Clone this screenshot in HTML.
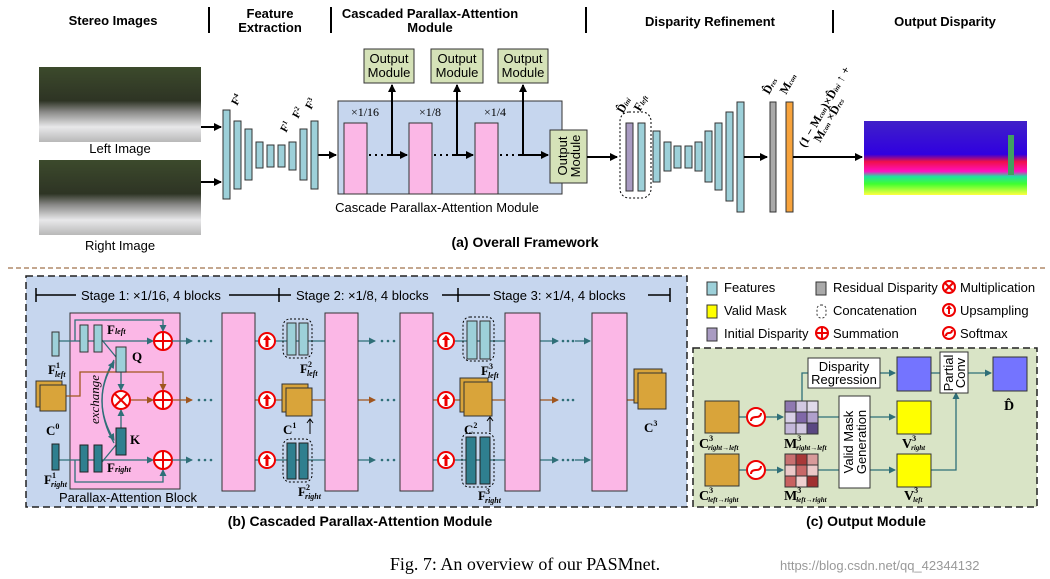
<!DOCTYPE html>
<html><head><meta charset="utf-8"><style>
body{margin:0;background:#fff}
svg{display:block}
text{font-family:"Liberation Sans",sans-serif}
.s text, text.s{font-family:"Liberation Serif",serif}
</style></head><body>
<svg width="1050" height="579" viewBox="0 0 1050 579" xmlns="http://www.w3.org/2000/svg">
<defs>
<marker id="a" markerWidth="8" markerHeight="8" refX="7" refY="4" orient="auto" markerUnits="userSpaceOnUse"><path d="M0,0L8,4L0,8z" fill="#000"/></marker>
<marker id="t" markerWidth="7" markerHeight="7" refX="6" refY="3.5" orient="auto" markerUnits="userSpaceOnUse"><path d="M0,0L7,3.5L0,7z" fill="#2f6f78"/></marker>
<marker id="o" markerWidth="7" markerHeight="7" refX="6" refY="3.5" orient="auto" markerUnits="userSpaceOnUse"><path d="M0,0L7,3.5L0,7z" fill="#a0561e"/></marker>
<linearGradient id="img" x1="0" y1="0" x2="0" y2="1"><stop offset="0" stop-color="#3c4a2c"/><stop offset="0.45" stop-color="#2e3424"/><stop offset="0.6" stop-color="#8a8a88"/><stop offset="0.8" stop-color="#e8e8ea"/><stop offset="1" stop-color="#b8b8b8"/></linearGradient>
<linearGradient id="disp" x1="0" y1="0" x2="0" y2="1"><stop offset="0" stop-color="#4020c8"/><stop offset="0.45" stop-color="#3000e0"/><stop offset="0.55" stop-color="#f0104a"/><stop offset="0.68" stop-color="#ff10c0"/><stop offset="0.75" stop-color="#20e0a0"/><stop offset="0.85" stop-color="#40ff30"/><stop offset="1" stop-color="#ffff40"/></linearGradient>
</defs>

<!-- headers -->
<g font-weight="bold" font-size="13" text-anchor="middle">
<text x="113" y="25">Stereo Images</text>
<text x="270" y="18">Feature</text><text x="270" y="32">Extraction</text>
<text x="430" y="18">Cascaded Parallax-Attention</text><text x="430" y="32">Module</text>
<text x="710" y="26">Disparity Refinement</text>
<text x="945" y="26">Output Disparity</text>
</g>
<g stroke="#000" stroke-width="2"><line x1="209" y1="7" x2="209" y2="33"/><line x1="331" y1="7" x2="331" y2="33"/><line x1="586" y1="7" x2="586" y2="33"/><line x1="833" y1="10" x2="833" y2="33"/></g>

<!-- images -->
<rect x="39" y="67" width="162" height="75" fill="url(#img)"/>
<rect x="39" y="160" width="162" height="75" fill="url(#img)"/>
<text x="120" y="153" font-size="13" text-anchor="middle">Left Image</text>
<text x="120" y="250" font-size="13" text-anchor="middle">Right Image</text>
<g stroke="#000" stroke-width="2" marker-end="url(#a)"><line x1="201" y1="127" x2="221" y2="127"/><line x1="201" y1="182" x2="221" y2="182"/><line x1="317" y1="155" x2="336" y2="155"/></g>

<!-- feature bars -->
<g fill="#9dd0d9" stroke="#333" stroke-width="1">
<rect x="223" y="110" width="7" height="89"/><rect x="234" y="121" width="7" height="68"/><rect x="245" y="129" width="7" height="51"/><rect x="256" y="142" width="7" height="26"/><rect x="267" y="145" width="7" height="22"/><rect x="278" y="145" width="7" height="22"/><rect x="289" y="142" width="7" height="28"/><rect x="300" y="129" width="7" height="51"/><rect x="311" y="121" width="7" height="68"/>
</g>
<g class="s" font-weight="bold" font-size="11">
<text transform="translate(237,106) rotate(-60)">F<tspan font-size="7" dy="-4">4</tspan></text>
<text transform="translate(286,133) rotate(-60)">F<tspan font-size="7" dy="-4">1</tspan></text>
<text transform="translate(298,119) rotate(-60)">F<tspan font-size="7" dy="-4">2</tspan></text>
<text transform="translate(311,110) rotate(-60)">F<tspan font-size="7" dy="-4">3</tspan></text>
</g>

<!-- CPAM -->
<rect x="338" y="101" width="224" height="93" fill="#c6d6ee" stroke="#333"/>
<g fill="#fbb7e6" stroke="#333"><rect x="344" y="123" width="23" height="71"/><rect x="409" y="123" width="23" height="71"/><rect x="475" y="123" width="23" height="71"/></g>
<g class="s" font-size="12" text-anchor="middle"><text x="365" y="116">×1/16</text><text x="430" y="116">×1/8</text><text x="495" y="116">×1/4</text></g>
<g stroke="#000" stroke-width="2"><line x1="369" y1="155" x2="388" y2="155" stroke-dasharray="2,4"/><line x1="434" y1="155" x2="453" y2="155" stroke-dasharray="2,4"/><line x1="500" y1="155" x2="519" y2="155" stroke-dasharray="2,4"/>
<line x1="388" y1="155" x2="407" y2="155" marker-end="url(#a)"/><line x1="453" y1="155" x2="473" y2="155" marker-end="url(#a)"/><line x1="519" y1="155" x2="548" y2="155" marker-end="url(#a)"/>
<line x1="392" y1="155" x2="392" y2="85" marker-end="url(#a)"/><line x1="457" y1="155" x2="457" y2="85" marker-end="url(#a)"/><line x1="523" y1="155" x2="523" y2="85" marker-end="url(#a)"/></g>
<g fill="#d5e2b8" stroke="#333"><rect x="364" y="49" width="50" height="34"/><rect x="431" y="49" width="52" height="34"/><rect x="498" y="49" width="50" height="34"/><rect x="550" y="130" width="37" height="53"/></g>
<g font-size="13" text-anchor="middle"><text x="389" y="63">Output</text><text x="389" y="77">Module</text><text x="457" y="63">Output</text><text x="457" y="77">Module</text><text x="523" y="63">Output</text><text x="523" y="77">Module</text>
<text transform="translate(567,156) rotate(-90)">Output</text><text transform="translate(580,156) rotate(-90)">Module</text></g>
<text x="437" y="212" font-size="13" text-anchor="middle">Cascade Parallax-Attention Module</text>
<line x1="587" y1="157" x2="617" y2="157" stroke="#000" stroke-width="2" marker-end="url(#a)"/>

<!-- refinement -->
<rect x="620" y="112" width="31" height="86" rx="9" fill="none" stroke="#000" stroke-dasharray="2,2"/>
<rect x="626" y="123" width="7" height="68" fill="#a99bc2" stroke="#333"/>
<rect x="638" y="123" width="7" height="68" fill="#9dd0d9" stroke="#333"/>
<g fill="#9dd0d9" stroke="#333">
<rect x="653" y="131" width="7" height="51"/><rect x="664" y="142" width="7" height="29"/><rect x="674" y="146" width="7" height="22"/><rect x="685" y="146" width="7" height="22"/><rect x="695" y="142" width="7" height="29"/><rect x="705" y="131" width="7" height="51"/><rect x="715" y="123" width="7" height="67"/><rect x="726" y="112" width="7" height="89"/><rect x="737" y="102" width="7" height="110"/></g>
<line x1="744" y1="157" x2="767" y2="157" stroke="#000" stroke-width="2" marker-end="url(#a)"/>
<rect x="770" y="102" width="6" height="110" fill="#a9a9a9" stroke="#333"/>
<rect x="786" y="102" width="7" height="110" fill="#f7a33c" stroke="#333"/>
<line x1="793" y1="157" x2="862" y2="157" stroke="#000" stroke-width="2" marker-end="url(#a)"/>
<rect x="864" y="121" width="163" height="74" fill="url(#disp)"/>
<rect x="1008" y="135" width="6" height="40" fill="#40a060"/>
<g class="s" font-weight="bold" font-size="12">
<text transform="translate(623,114) rotate(-60)">D̂<tspan font-size="7" font-style="italic">ini</tspan></text>
<text transform="translate(640,112) rotate(-60)">F<tspan font-size="7" font-style="italic">left</tspan></text>
<text transform="translate(769,95) rotate(-60)">D̂<tspan font-size="7" font-style="italic">res</tspan></text>
<text transform="translate(786,95) rotate(-60)">M<tspan font-size="7" font-style="italic">con</tspan></text>
<text transform="translate(805,148) rotate(-60)">(1 − M<tspan font-size="7" font-style="italic">con</tspan>)×D̂<tspan font-size="7" font-style="italic">ini</tspan> ↑ +</text>
<text transform="translate(820,143) rotate(-60)">M<tspan font-size="7" font-style="italic">con</tspan> ×D̂<tspan font-size="7" font-style="italic">res</tspan></text>
</g>
<text x="525" y="247" font-size="14" font-weight="bold" text-anchor="middle">(a) Overall Framework</text>
<line x1="8" y1="268" x2="1045" y2="268" stroke="#b08a6a" stroke-width="1.5" stroke-dasharray="5,3"/>

<!-- panel b -->
<rect x="26" y="276" width="661" height="231" fill="#c6d6ee" stroke="#222" stroke-width="1.5" stroke-dasharray="7,4"/>
<g stroke="#000" stroke-width="1.5"><line x1="36" y1="295" x2="76" y2="295"/><line x1="229" y1="295" x2="291" y2="295"/><line x1="442" y1="295" x2="490" y2="295"/><line x1="648" y1="295" x2="670" y2="295"/>
<line x1="36" y1="288" x2="36" y2="302"/><line x1="279" y1="288" x2="279" y2="302"/><line x1="458" y1="288" x2="458" y2="302"/><line x1="670" y1="288" x2="670" y2="302"/></g>
<g font-size="13"><text x="81" y="300">Stage 1: ×1/16, 4 blocks</text><text x="296" y="300">Stage 2: ×1/8, 4 blocks</text><text x="493" y="300">Stage 3:  ×1/4, 4 blocks</text></g>

<rect x="70" y="313" width="110" height="176" fill="#fbb7e6" stroke="#333"/>
<text x="128" y="502" font-size="13" text-anchor="middle">Parallax-Attention Block</text>
<!-- inner lines -->
<g stroke="#2f6f78" stroke-width="1.3" fill="none">
<line x1="58" y1="341" x2="153" y2="341" marker-end="url(#t)"/>
<line x1="58" y1="460" x2="153" y2="460" marker-end="url(#t)"/>
<path d="M75,341 V320 H163 V331" marker-end="url(#t)"/>
<path d="M75,460 V482 H163 V470" marker-end="url(#t)"/>
<path d="M102,340 L116,357"/><path d="M102,462 L116,445"/>
<line x1="121" y1="372" x2="121" y2="390" marker-end="url(#t)"/>
<line x1="121" y1="428" x2="121" y2="410" marker-end="url(#t)"/>
<path d="M114,443 Q90,400 114,362" marker-end="url(#t)"/>
<path d="M114,360 Q90,400 114,440" marker-end="url(#t)"/>
</g>
<g stroke="#a0561e" stroke-width="1.3" fill="none">
<path d="M66,396 H80 V372 H163 V390" marker-end="url(#o)"/>
<line x1="130" y1="400" x2="153" y2="400" marker-end="url(#o)"/>
</g>
<g fill="#9dd0d9" stroke="#333"><rect x="52" y="332" width="7" height="24"/><rect x="80" y="325" width="8" height="27"/><rect x="94" y="325" width="8" height="27"/><rect x="116" y="347" width="10" height="25"/></g>
<g fill="#2f7f8f" stroke="#222"><rect x="52" y="444" width="7" height="26"/><rect x="80" y="445" width="8" height="27"/><rect x="94" y="445" width="8" height="27"/><rect x="116" y="428" width="10" height="27"/></g>
<g fill="#d9a43a" stroke="#333"><rect x="36" y="381" width="26" height="26"/><rect x="40" y="385" width="26" height="26"/></g>
<g class="s" font-weight="bold" font-size="13">
<text x="48" y="374">F<tspan font-size="8" dy="-6">1</tspan><tspan font-size="8" dx="-5" dy="9" font-style="italic">left</tspan></text>
<text x="46" y="435">C<tspan font-size="8" dy="-6">0</tspan></text>
<text x="44" y="484">F<tspan font-size="8" dy="-6">1</tspan><tspan font-size="8" dx="-5" dy="9" font-style="italic">right</tspan></text>
<text x="107" y="334">F<tspan font-size="8" font-style="italic">left</tspan></text>
<text x="132" y="361">Q</text><text x="130" y="444">K</text>
<text x="107" y="472">F<tspan font-size="8" font-style="italic">right</tspan></text>
</g>
<text class="s" font-style="italic" font-size="13" transform="translate(99,424) rotate(-90)">exchange</text>
<!-- circles -->
<g stroke="#e00" stroke-width="2" fill="#fff">
<circle cx="163" cy="341" r="9"/><circle cx="163" cy="400" r="9"/><circle cx="163" cy="460" r="9"/><circle cx="121" cy="400" r="9"/></g>
<g stroke="#e00" stroke-width="2"><path d="M154,341h18M163,332v18M154,400h18M163,391v18M154,460h18M163,451v18M115,394l12,12M127,394l-12,12"/></g>

<!-- main flow rows -->
<g stroke-width="1.3">
<g stroke="#2f6f78"><line x1="172" y1="341" x2="192" y2="341" marker-end="url(#t)"/><line x1="172" y1="460" x2="192" y2="460" marker-end="url(#t)"/>
<line x1="255" y1="341" x2="325" y2="341"/><line x1="255" y1="460" x2="325" y2="460"/>
<line x1="358" y1="341" x2="375" y2="341" marker-end="url(#t)"/><line x1="358" y1="460" x2="375" y2="460" marker-end="url(#t)"/>
<line x1="433" y1="341" x2="505" y2="341"/><line x1="433" y1="460" x2="505" y2="460"/>
<line x1="540" y1="341" x2="558" y2="341" marker-end="url(#t)"/><line x1="540" y1="460" x2="558" y2="460" marker-end="url(#t)"/>
<line x1="575" y1="341" x2="590" y2="341" marker-end="url(#t)"/><line x1="575" y1="460" x2="590" y2="460" marker-end="url(#t)"/></g>
<g stroke="#a0561e"><line x1="172" y1="400" x2="192" y2="400" marker-end="url(#o)"/><line x1="255" y1="400" x2="325" y2="400"/><line x1="358" y1="400" x2="375" y2="400" marker-end="url(#o)"/><line x1="433" y1="400" x2="505" y2="400"/><line x1="540" y1="400" x2="558" y2="400" marker-end="url(#o)"/><line x1="627" y1="400" x2="640" y2="400" marker-end="url(#o)"/></g>
</g>
<g fill="#2f6f78"><circle cx="199" cy="341" r="1.3"/><circle cx="205" cy="341" r="1.3"/><circle cx="211" cy="341" r="1.3"/><circle cx="199" cy="400" r="1.3"/><circle cx="205" cy="400" r="1.3"/><circle cx="211" cy="400" r="1.3"/><circle cx="199" cy="460" r="1.3"/><circle cx="205" cy="460" r="1.3"/><circle cx="211" cy="460" r="1.3"/>
<circle cx="382" cy="341" r="1.3"/><circle cx="388" cy="341" r="1.3"/><circle cx="394" cy="341" r="1.3"/><circle cx="382" cy="400" r="1.3"/><circle cx="388" cy="400" r="1.3"/><circle cx="394" cy="400" r="1.3"/><circle cx="382" cy="460" r="1.3"/><circle cx="388" cy="460" r="1.3"/><circle cx="394" cy="460" r="1.3"/>
<circle cx="563" cy="341" r="1.3"/><circle cx="568" cy="341" r="1.3"/><circle cx="573" cy="341" r="1.3"/><circle cx="563" cy="400" r="1.3"/><circle cx="568" cy="400" r="1.3"/><circle cx="573" cy="400" r="1.3"/><circle cx="563" cy="460" r="1.3"/><circle cx="568" cy="460" r="1.3"/><circle cx="573" cy="460" r="1.3"/></g>
<g fill="#fbb7e6" stroke="#333"><rect x="222" y="313" width="33" height="178"/><rect x="325" y="313" width="33" height="178"/><rect x="400" y="313" width="33" height="178"/><rect x="505" y="313" width="35" height="178"/><rect x="592" y="313" width="35" height="178"/></g>
<!-- upsampling circles -->
<g stroke="#e00" stroke-width="2" fill="#fff">
<circle cx="267" cy="341" r="8"/><circle cx="267" cy="400" r="8"/><circle cx="267" cy="460" r="8"/><circle cx="446" cy="341" r="8"/><circle cx="446" cy="400" r="8"/><circle cx="446" cy="460" r="8"/></g>
<g fill="#e00"><path d="M267,335l-4,5h2.5v7h3v-7h2.5z"/><path d="M267,394l-4,5h2.5v7h3v-7h2.5z"/><path d="M267,454l-4,5h2.5v7h3v-7h2.5z"/><path d="M446,335l-4,5h2.5v7h3v-7h2.5z"/><path d="M446,394l-4,5h2.5v7h3v-7h2.5z"/><path d="M446,454l-4,5h2.5v7h3v-7h2.5z"/></g>
<!-- stage groups -->
<g fill="none" stroke="#000" stroke-dasharray="2,2"><rect x="283" y="319" width="29" height="39" rx="7"/><rect x="283" y="439" width="29" height="43" rx="7"/><rect x="463" y="317" width="31" height="44" rx="7"/><rect x="462" y="433" width="32" height="54" rx="7"/></g>
<g fill="#9dd0d9" stroke="#333"><rect x="287" y="323" width="9" height="32"/><rect x="299" y="323" width="9" height="32"/><rect x="467" y="321" width="10" height="38"/><rect x="480" y="321" width="10" height="38"/></g>
<g fill="#2f7f8f" stroke="#222"><rect x="287" y="443" width="9" height="36"/><rect x="299" y="443" width="9" height="36"/><rect x="466" y="437" width="10" height="47"/><rect x="480" y="437" width="10" height="47"/></g>
<g fill="#d9a43a" stroke="#333"><rect x="282" y="384" width="26" height="28"/><rect x="286" y="388" width="26" height="28"/><rect x="460" y="378" width="28" height="34"/><rect x="464" y="382" width="28" height="34"/><rect x="634" y="369" width="28" height="34"/><rect x="638" y="373" width="28" height="36"/></g>
<g class="s" font-weight="bold" font-size="13">
<text x="300" y="373">F<tspan font-size="8" dy="-6">2</tspan><tspan font-size="8" dx="-5" dy="9" font-style="italic">left</tspan></text>
<text x="283" y="434">C<tspan font-size="8" dy="-6">1</tspan></text>
<text x="298" y="496">F<tspan font-size="8" dy="-6">2</tspan><tspan font-size="8" dx="-5" dy="9" font-style="italic">right</tspan></text>
<text x="481" y="375">F<tspan font-size="8" dy="-6">3</tspan><tspan font-size="8" dx="-5" dy="9" font-style="italic">left</tspan></text>
<text x="464" y="434">C<tspan font-size="8" dy="-6">2</tspan></text>
<text x="478" y="500">F<tspan font-size="8" dy="-6">3</tspan><tspan font-size="8" dx="-5" dy="9" font-style="italic">right</tspan></text>
<text x="644" y="432">C<tspan font-size="8" dy="-6">3</tspan></text>
</g>
<g stroke="#000" stroke-width="1"><line x1="310" y1="434" x2="310" y2="420"/><path d="M307,423l3,-4l3,4" fill="none"/><line x1="490" y1="432" x2="490" y2="418"/><path d="M487,421l3,-4l3,4" fill="none"/></g>
<text x="360" y="526" font-size="14" font-weight="bold" text-anchor="middle">(b) Cascaded Parallax-Attention Module</text>

<!-- legend -->
<g stroke="#333"><rect x="707" y="282" width="10" height="13" fill="#9dd0d9"/><rect x="707" y="305" width="10" height="13" fill="#ffff00"/><rect x="707" y="328" width="10" height="13" fill="#a99bc2"/><rect x="816" y="282" width="10" height="13" fill="#a9a9a9"/><rect x="817" y="305" width="9" height="13" rx="4" fill="none" stroke-dasharray="2,2"/></g>
<g font-size="13"><text x="724" y="292">Features</text><text x="724" y="315">Valid Mask</text><text x="724" y="338">Initial Disparity</text><text x="833" y="292">Residual Disparity</text><text x="833" y="315">Concatenation</text><text x="833" y="338">Summation</text><text x="960" y="292">Multiplication</text><text x="960" y="315">Upsampling</text><text x="960" y="338">Softmax</text></g>
<g stroke="#e00" stroke-width="2" fill="#fff"><circle cx="822" cy="333" r="6"/><circle cx="949" cy="287" r="6"/><circle cx="949" cy="310" r="6"/><circle cx="949" cy="333" r="6"/></g>
<g stroke="#e00" stroke-width="2" fill="none"><path d="M816,333h12M822,327v12M945,283l8,8M953,283l-8,8M946,336q0,-3 3,-3q3,0 3,-3"/></g>
<path d="M949,305l-3,4h2v5h2v-5h2z" fill="#e00"/>

<!-- panel c -->
<rect x="693" y="348" width="344" height="159" fill="#d9e4c6" stroke="#222" stroke-width="1.5" stroke-dasharray="7,4"/>
<g stroke="#2f6f78" stroke-width="1.3" fill="none">
<line x1="739" y1="417" x2="747" y2="417"/><line x1="765" y1="417" x2="783" y2="417" marker-end="url(#t)"/>
<line x1="739" y1="470" x2="747" y2="470"/><line x1="765" y1="470" x2="783" y2="470" marker-end="url(#t)"/>
<line x1="818" y1="417" x2="839" y2="417"/><line x1="818" y1="470" x2="839" y2="470"/>
<line x1="870" y1="417" x2="895" y2="417" marker-end="url(#t)"/><line x1="870" y1="470" x2="895" y2="470" marker-end="url(#t)"/>
<path d="M802,401 V373 H808"/><line x1="880" y1="373" x2="895" y2="373" marker-end="url(#t)"/>
<line x1="931" y1="373" x2="940" y2="373"/><line x1="968" y1="373" x2="991" y2="373" marker-end="url(#t)"/>
<path d="M931,470 H956 V393" marker-end="url(#t)"/>
</g>
<g fill="#d9a43a" stroke="#333"><rect x="705" y="401" width="34" height="32"/><rect x="705" y="454" width="34" height="32"/></g>
<g stroke="#e00" stroke-width="2" fill="#fff"><circle cx="756" cy="417" r="9"/><circle cx="756" cy="470" r="9"/></g>
<g stroke="#e00" stroke-width="2" fill="none"><path d="M751,421q0,-4 5,-4q5,0 5,-4M751,474q0,-4 5,-4q5,0 5,-4"/></g>
<g stroke="#333">
<rect x="785" y="401" width="11" height="11" fill="#8f78b0"/><rect x="796" y="401" width="11" height="11" fill="#d2c8e2"/><rect x="807" y="401" width="11" height="11" fill="#e0daea"/>
<rect x="785" y="412" width="11" height="11" fill="#d8d0e6"/><rect x="796" y="412" width="11" height="11" fill="#8068a8"/><rect x="807" y="412" width="11" height="11" fill="#b0a0cc"/>
<rect x="785" y="423" width="11" height="11" fill="#c4b8da"/><rect x="796" y="423" width="11" height="11" fill="#d2c8e2"/><rect x="807" y="423" width="11" height="11" fill="#5a4882"/>
<rect x="785" y="454" width="11" height="11" fill="#c87070"/><rect x="796" y="454" width="11" height="11" fill="#a83838"/><rect x="807" y="454" width="11" height="11" fill="#d89a9a"/>
<rect x="785" y="465" width="11" height="11" fill="#ecc8c8"/><rect x="796" y="465" width="11" height="11" fill="#c86868"/><rect x="807" y="465" width="11" height="11" fill="#ecc8c8"/>
<rect x="785" y="476" width="11" height="11" fill="#c86060"/><rect x="796" y="476" width="11" height="11" fill="#f0d0d0"/><rect x="807" y="476" width="11" height="11" fill="#a03030"/>
</g>
<rect x="808" y="358" width="72" height="30" fill="#fff" stroke="#333"/>
<text x="844" y="371" font-size="13" text-anchor="middle">Disparity</text><text x="844" y="384" font-size="13" text-anchor="middle">Regression</text>
<rect x="839" y="396" width="31" height="92" fill="#fff" stroke="#333"/>
<text transform="translate(853,442) rotate(-90)" font-size="13" text-anchor="middle">Valid Mask</text>
<text transform="translate(866,442) rotate(-90)" font-size="13" text-anchor="middle">Generation</text>
<rect x="897" y="357" width="34" height="34" fill="#7474ff" stroke="#333"/>
<rect x="993" y="357" width="34" height="34" fill="#7474ff" stroke="#333"/>
<rect x="897" y="401" width="34" height="33" fill="#ffff00" stroke="#333"/>
<rect x="897" y="454" width="34" height="33" fill="#ffff00" stroke="#333"/>
<rect x="940" y="352" width="28" height="41" fill="#fff" stroke="#333"/>
<text transform="translate(953,373) rotate(-90)" font-size="13" text-anchor="middle">Partial</text>
<text transform="translate(965,373) rotate(-90)" font-size="13" text-anchor="middle">Conv</text>
<g class="s" font-weight="bold" font-size="14">
<text x="1004" y="410">D̂</text>
<text x="699" y="448">C<tspan font-size="8" dy="-7">3</tspan><tspan font-size="7" dx="-5" dy="9" font-style="italic">right→left</tspan></text>
<text x="784" y="448">M<tspan font-size="8" dy="-7">3</tspan><tspan font-size="7" dx="-5" dy="9" font-style="italic">right→left</tspan></text>
<text x="902" y="448">V<tspan font-size="8" dy="-7">3</tspan><tspan font-size="7" dx="-5" dy="9" font-style="italic">right</tspan></text>
<text x="699" y="500">C<tspan font-size="8" dy="-7">3</tspan><tspan font-size="7" dx="-5" dy="9" font-style="italic">left→right</tspan></text>
<text x="784" y="500">M<tspan font-size="8" dy="-7">3</tspan><tspan font-size="7" dx="-5" dy="9" font-style="italic">left→right</tspan></text>
<text x="904" y="500">V<tspan font-size="8" dy="-7">3</tspan><tspan font-size="7" dx="-5" dy="9" font-style="italic">left</tspan></text>
</g>
<text x="866" y="526" font-size="14" font-weight="bold" text-anchor="middle">(c) Output Module</text>

<text x="525" y="570" class="s" font-size="18" text-anchor="middle">Fig. 7: An overview of our PASMnet.</text>
<text x="780" y="570" font-size="13" fill="#999">https://blog.csdn.net/qq_42344132</text>
</svg>
</body></html>
